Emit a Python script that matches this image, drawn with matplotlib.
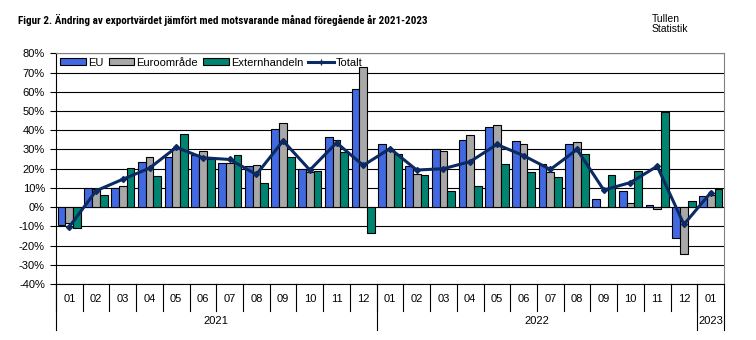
import numpy as np
import matplotlib.pyplot as plt
from matplotlib.lines import Line2D
from matplotlib.patches import Patch

# Month labels and year groups
months = ["01", "02", "03", "04", "05", "06", "07", "08", "09", "10", "11", "12",
          "01", "02", "03", "04", "05", "06", "07", "08", "09", "10", "11", "12",
          "01"]
years = ["2021", "2022", "2023"]
year_len = [12, 12, 1]

# Change in export value (%) vs same month previous year
eu = [-9.4, 9.7, 10.2, 23.7, 25.9, 27.1, 23.2, 21.2, 40.4, 19.8, 36.3, 61.3,
      32.6, 21.2, 30.5, 34.7, 41.5, 34.2, 22.5, 32.6, 4.0, 8.2, 0.9, -16.3, 5.6]
euro = [-8.5, 9.2, 10.8, 25.9, 31.0, 29.2, 23.2, 21.7, 43.7, 18.4, 34.7, 72.7,
        30.5, 17.0, 29.0, 37.4, 43.0, 32.6, 18.1, 33.7, 0.0, 1.9, -1.2, -24.6, 6.5]
ext = [-10.6, 6.1, 20.6, 16.0, 37.9, 25.1, 26.9, 12.3, 26.2, 18.6, 28.5, -13.7,
       27.5, 16.5, 8.2, 10.8, 22.7, 18.1, 15.5, 27.5, 16.5, 18.6, 49.6, 3.4, 9.2]
total = [-10.2, 8.5, 14.5, 20.3, 31.1, 25.7, 24.8, 17.0, 34.5, 19.3, 33.5, 21.7,
         30.5, 19.3, 20.0, 23.7, 32.6, 26.8, 19.6, 30.0, 8.9, 12.8, 21.3, -9.0, 7.5]

c_eu = "#4169E1"
c_euro = "#A8A8A8"
c_ext = "#008472"
c_tot = "#0B2A62"

plt.rcParams['font.family'] = ['Liberation Sans', 'DejaVu Sans']

fig = plt.figure(figsize=(7.56, 3.40), dpi=100)
ax = fig.add_axes([56 / 756, 1 - 284 / 340, (724 - 56) / 756, (284 - 53.4) / 340])

x = np.arange(len(months))
w = 0.29
ax.bar(x - w, eu, w, color=c_eu, edgecolor="black", linewidth=0.8, zorder=3)
ax.bar(x, euro, w, color=c_euro, edgecolor="black", linewidth=0.8, zorder=3)
ax.bar(x + w, ext, w, color=c_ext, edgecolor="black", linewidth=0.8, zorder=3)
ax.plot(x, total, color=c_tot, linewidth=2.2, marker="D", markersize=3, zorder=4)

ax.set_xlim(-0.5, len(months) - 0.5)
ax.set_ylim(-40, 80)
ax.set_yticks(np.arange(-40, 81, 10))
ax.set_yticklabels(["%d%%" % v for v in range(-40, 81, 10)], fontsize=8)
ax.yaxis.grid(True, color="black", linewidth=0.8, zorder=0)
ax.tick_params(axis="y", length=4, width=0.8, pad=4)
ax.set_xticks([])

ax.spines["top"].set_color("#808080")
ax.spines["right"].set_color("#808080")
ax.spines["left"].set_linewidth(0.8)
ax.spines["bottom"].set_linewidth(0.8)

# Month labels and separators below the axis
trans = ax.get_xaxis_transform()
for i, m in enumerate(months):
    ax.text(i, -0.063, m, transform=trans, ha="center", va="center", fontsize=8)
    ax.add_line(Line2D([i - 0.5, i - 0.5], [0, -0.115], transform=trans,
                       color="black", linewidth=0.8, clip_on=False))

start = 0
for y, n in zip(years, year_len):
    ax.text(start + n / 2 - 0.5, -0.16, y, transform=trans, ha="center",
            va="center", fontsize=8)
    ax.add_line(Line2D([start - 0.5, start - 0.5], [0, -0.2], transform=trans,
                       color="black", linewidth=0.8, clip_on=False))
    start += n
ax.add_line(Line2D([start - 0.5, start - 0.5], [0, -0.2], transform=trans,
                   color="black", linewidth=0.8, clip_on=False))

handles = [Patch(facecolor=c_eu, edgecolor="black", linewidth=0.8),
           Patch(facecolor=c_euro, edgecolor="black", linewidth=0.8),
           Patch(facecolor=c_ext, edgecolor="black", linewidth=0.8),
           Line2D([], [], color=c_tot, linewidth=2.2, marker="+", markersize=4)]
ax.legend(handles, ["EU", "Euroområde", "Externhandeln", "Totalt"], ncol=4,
          loc="upper left", bbox_to_anchor=(0.0, 1.0), frameon=False,
          fontsize=8, handlelength=2.3, handleheight=0.6, handletextpad=0.2,
          columnspacing=0.45, borderaxespad=0.15, borderpad=0.25)

fig.text(18 / 756, 1 - 20 / 340, "Figur 2. Ändring av exportvärdet jämfört med motsvarande månad föregående år 2021-2023",
         fontsize=8, fontweight="bold", ha="left", va="center",
         family=['Roboto Condensed', 'Liberation Sans', 'DejaVu Sans'])
fig.text(652 / 756, 1 - 24 / 340, "Tullen\nStatistik", fontsize=7.5, ha="left",
         va="center", linespacing=1.0)

fig.savefig("out.png", dpi=100)
